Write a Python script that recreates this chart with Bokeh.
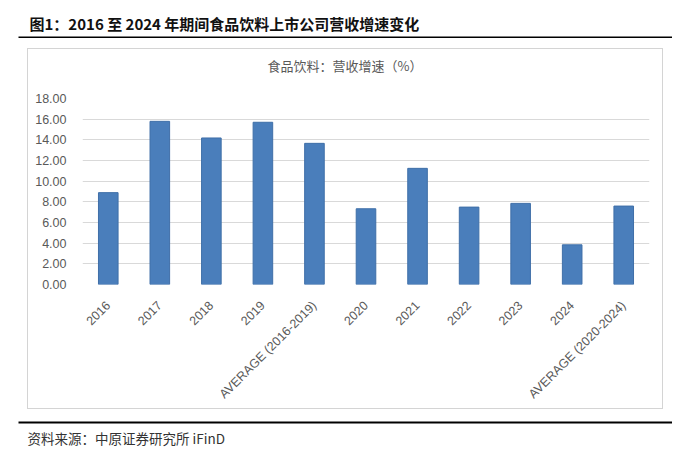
from bokeh.plotting import figure
from bokeh.models import Title, NumeralTickFormatter, FactorRange
from bokeh.layouts import column, row
from bokeh.embed import file_html
from bokeh.resources import INLINE
from math import pi

categories = ["2016", "2017", "2018", "2019", "AVERAGE (2016-2019)", "2020", "2021",
              "2022", "2023", "2024", "AVERAGE (2020-2024)"]
growth = [8.89, 15.79, 14.18, 15.70, 13.66, 7.33, 11.24, 7.49, 7.85, 3.84, 7.59]
y_ticks = [0, 2, 4, 6, 8, 10, 12, 14, 16, 18]

title_text = "图1：2016 至 2024 年期间食品饮料上市公司营收增速变化"
chart_title = "食品饮料：营收增速（%）"
source_text = "资料来源：中原证券研究所 iFinD"

CJK = "Noto Sans CJK SC"
BORDER = "1px solid #D4D4D4"


def strip_figure(width, height, top, bottom, fill):
    """A figure with no axes whose thin frame is filled (used for rules / spacing)."""
    f = figure(width=width, height=height, output_backend="svg", toolbar_location=None,
               x_axis_location=None, y_axis_location=None, x_range=(0, 1), y_range=(0, 1),
               min_border_left=0, min_border_right=0, min_border_top=top,
               min_border_bottom=bottom, background_fill_color=fill,
               outline_line_color=None)
    f.grid.visible = False
    f.title.visible = False
    return f


# header: title text above a black rule
hdr = strip_figure(654, 38, 36, 0, "black")
hdr.add_layout(Title(text=title_text, align="left", offset=11, text_font=CJK,
                     text_font_style="bold", text_font_size="15px",
                     text_color="#111111", standoff=6), "above")
hdr.margin = (0, 0, 0, 18)

# chart title strip (top part of the grey chart box)
tfig = strip_figure(636, 31, 28, 0, "white")
tfig.add_layout(Title(text=chart_title, align="left", offset=239, text_font=CJK,
                      text_font_style="normal", text_font_size="13px",
                      text_color="#595959", standoff=5), "above")
tfig.styles = {"border": BORDER, "border-bottom": "none", "box-sizing": "border-box"}
tfig.margin = (10, 0, 0, 27)

# main chart
p = figure(x_range=FactorRange(*categories, range_padding=0), y_range=(0, 18),
           width=636, height=330, output_backend="svg", toolbar_location=None,
           min_border_left=54, min_border_right=15, min_border_top=19,
           min_border_bottom=124)
p.vbar(x=categories, top=growth, width=0.38, fill_color="#4A7EBB",
       line_color="#3F6FA8", line_width=1)
p.title.visible = False
p.outline_line_color = None
p.xgrid.grid_line_color = None
p.ygrid.grid_line_color = "#D9D9D9"
p.ygrid.ticker = y_ticks
p.yaxis.ticker = y_ticks
p.yaxis.formatter = NumeralTickFormatter(format="0.00")
for ax in (p.xaxis, p.yaxis):
    ax.axis_line_color = None
    ax.major_tick_line_color = None
    ax.minor_tick_line_color = None
    ax.major_label_text_color = "#595959"
    ax.major_label_text_font = "Liberation Sans"
    ax.major_label_text_font_size = "12.5px"
p.yaxis.major_label_standoff = 10
p.xaxis.major_label_orientation = pi / 4
p.xaxis.major_label_standoff = 13
p.styles = {"border": BORDER, "border-top": "none", "box-sizing": "border-box"}
p.margin = (0, 0, 0, 27)

# footer: black rule above the source note
ftr = strip_figure(654, 32, 0, 30, "black")
ftr.add_layout(Title(text=source_text, align="left", offset=9, text_font=CJK,
                     text_font_style="normal", text_font_size="13.5px",
                     text_color="#333333", standoff=4), "below")
ftr.margin = (12, 0, 0, 18)

layout = column(row(hdr), row(tfig), row(p), row(ftr), spacing=0)
open("out.html", "w").write(file_html(layout, INLINE))
